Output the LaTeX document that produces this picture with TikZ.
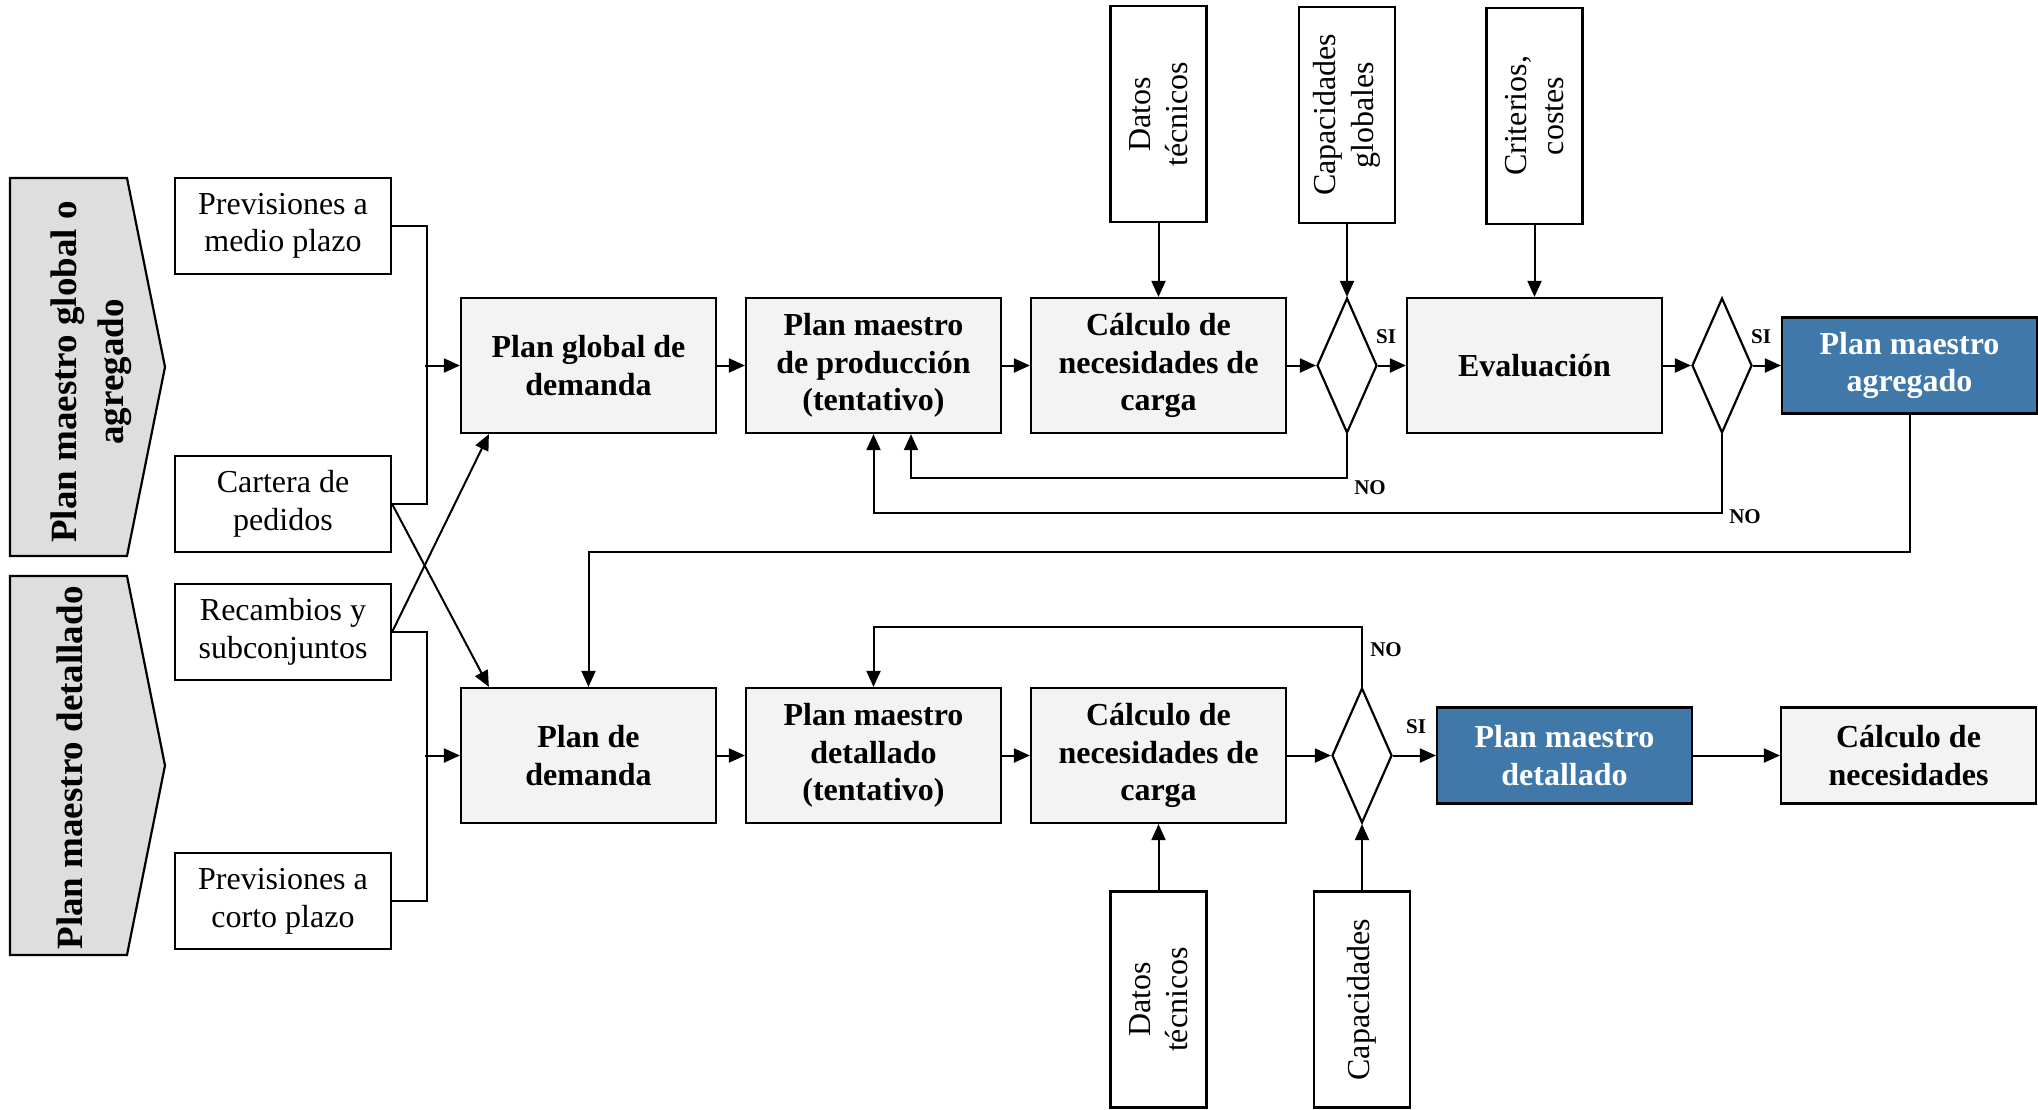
\documentclass[tikz,border=0pt]{standalone}
\usepackage{fontspec}
\setmainfont{Liberation Serif}
\usetikzlibrary{positioning, arrows.meta, calc, shapes.geometric}
\definecolor{mpblue}{RGB}{65, 120, 170}
\definecolor{boxgray}{RGB}{243, 243, 243}
\definecolor{tabgray}{RGB}{222, 222, 222}

\tikzset{
    line/.style={line width=1pt},
    arr/.style={line width=1pt, -{Triangle[length=8pt, width=7pt]}},
    proc/.style={draw, line width=1.1pt, fill=boxgray, minimum width=127.5pt, minimum height=67.5pt, inner sep=2pt, align=center, font=\fontsize{16}{18.8}\selectfont\bfseries},
    outbox/.style={proc, minimum height=48pt},
    result/.style={proc, minimum height=48pt, fill=mpblue, text=white},
    inbox/.style={draw, line width=1.1pt, fill=white, minimum width=108pt, minimum height=48pt, inner sep=2pt, align=center, font=\fontsize{16}{18.8}\selectfont},
    vbox/.style={inbox, rotate=90},
    dec/.style={draw, diamond, line width=1.1pt, fill=white, minimum width=30pt, minimum height=67.5pt, inner sep=0pt},
    tab/.style={draw, line width=1.1pt, fill=tabgray},
    tabtxt/.style={rotate=90, align=center, font=\fontsize{18.5}{23.5}\selectfont\bfseries},
    lbl/.style={inner sep=0pt, font=\fontsize{10.5}{12}\selectfont\bfseries}
}

\begin{document}
\begin{tikzpicture}[x=0.5pt, y=-0.5pt]
    \useasboundingbox (0,0) rectangle (2038,1109);

    \draw[tab] (10,178) -- (127,178) -- (165,367) -- (127,556) -- (10,556) -- cycle;
    \node[tabtxt] (pglob) at (91,372) {Plan maestro global o\\agregado};
    \draw[tab] (10,576) -- (127,576) -- (165,765.5) -- (127,955) -- (10,955) -- cycle;
    \node[tabtxt] (pdet) at (70,768) {Plan maestro detallado};

    \node[inbox] (pmed) at (283,226) {Previsiones a\\medio plazo};
    \node[inbox] (cart) at (283,504) {Cartera de\\pedidos};
    \node[inbox] (rec) at (283,632) {Recambios y\\subconjuntos};
    \node[inbox] (pcor) at (283,901) {Previsiones a\\corto plazo};

    \node[proc] (pg) at (588.5,365.5) {Plan global de\\demanda};
    \node[proc, right=13.9pt of pg] (pmp) {Plan maestro\\de producción\\(tentativo)};
    \node[proc, right=13.9pt of pmp] (calc1) {Cálculo de\\necesidades de\\carga};
    \node[dec, right=14.4pt of calc1] (d1) {};
    \node[proc, right=13.9pt of d1] (ev) {Evaluación};
    \node[dec, right=13.9pt of ev] (d2) {};
    \node[result, right=13.9pt of d2] (pma) {Plan maestro\\agregado};

    \node[proc] (pd) at (588.5,755.5) {Plan de\\demanda};
    \node[proc, right=13.9pt of pd] (pmd) {Plan maestro\\detallado\\(tentativo)};
    \node[proc, right=13.9pt of pmd] (calc2) {Cálculo de\\necesidades de\\carga};
    \node[dec, right=21.9pt of calc2] (d3) {};
    \node[result, right=21.4pt of d3] (pmdet) {Plan maestro\\detallado};
    \node[outbox, right=43.4pt of pmdet] (calcn) {Cálculo de\\necesidades};

    \node[vbox] (dt1) at (calc1 |- 0,114) {Datos\\técnicos};
    \node[vbox] (cg) at (d1 |- 0,115) {Capacidades\\globales};
    \node[vbox] (cc) at (ev |- 0,116) {Criterios,\\costes};
    \node[vbox] (dt2) at (calc2 |- 0,999.5) {Datos\\técnicos};
    \node[vbox] (cap) at (d3 |- 0,999.5) {Capacidades};

    \draw[line] (pmed.east) -- ++(35,0) |- (cart.east);
    \draw[arr] ($(pg.west)+(-35,0)$) -- (pg.west);
    \draw[line] (rec.east) -- ++(35,0) |- (pcor.east);
    \draw[arr] ($(pd.west)+(-35,0)$) -- (pd.west);
    \draw[arr] (cart.east) -- ([xshift=14.5pt]pd.north west);
    \draw[arr] (rec.east) -- ([xshift=14.5pt]pg.south west);

    \draw[arr] (pg) -- (pmp);
    \draw[arr] (pmp) -- (calc1);
    \draw[arr] (calc1) -- (d1);
    \draw[arr] (d1) -- (ev);
    \draw[arr] (ev) -- (d2);
    \draw[arr] (d2) -- (pma);
    \draw[arr] (pd) -- (pmd);
    \draw[arr] (pmd) -- (calc2);
    \draw[arr] (calc2) -- (d3);
    \draw[arr] (d3) -- (pmdet);
    \draw[arr] (pmdet) -- (calcn);

    \draw[arr] (dt1) -- (calc1);
    \draw[arr] (cg) -- (d1);
    \draw[arr] (cc) -- (ev);
    \draw[arr] (dt2) -- (calc2);
    \draw[arr] (cap) -- (d3);

    \draw[arr] (d1.south) -- ++(0,44) -| ([xshift=18.75pt]pmp.south);
    \draw[arr] (d2.south) -- ++(0,79) -| (pmp.south);
    \draw[arr] (pma.south) -- ++(0,137) -| (pd.north);
    \draw[arr] (d3.north) -- ++(0,-60) -| (pmd.north);

    \node[lbl] (si1) at ($(d1.east)+(8,-29)$) {SI};
    \node[lbl] (no1) at ($(d1.south)+(23,54)$) {NO};
    \node[lbl] (si2) at ($(d2.east)+(8,-29)$) {SI};
    \node[lbl] (no2) at ($(d2.south)+(23,83)$) {NO};
    \node[lbl] (no3) at ($(d3.north)+(24,-37)$) {NO};
    \node[lbl] (si3) at ($(d3.east)+(23,-29)$) {SI};
\end{tikzpicture}
\end{document}
